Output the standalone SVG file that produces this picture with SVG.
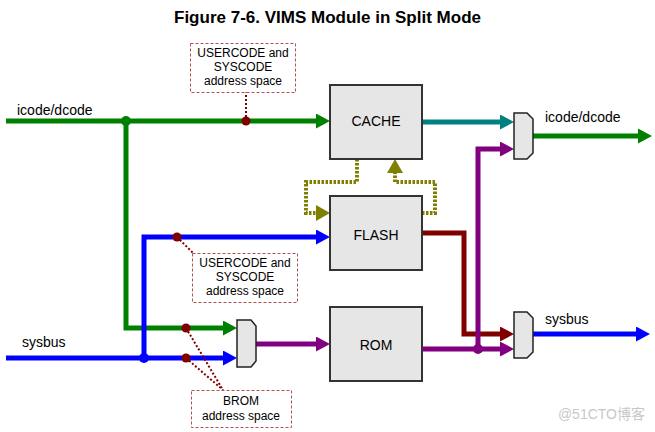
<svg xmlns="http://www.w3.org/2000/svg" width="655" height="432" viewBox="0 0 655 432">
<style>
text{font-family:"Liberation Sans",Arial,sans-serif;fill:#000}
.title{font-size:17px;font-weight:bold}
.lbl{font-size:14px}
.small{font-size:12px}
.box{fill:#e6e6e6;stroke:#333;stroke-width:2}
.mux{fill:#e6e6e6;stroke:#222;stroke-width:1.5}
.note{fill:#fff;stroke:#b05050;stroke-width:1;stroke-dasharray:3 2}
.w{fill:none;stroke-width:5;stroke-linejoin:miter}
.g{stroke:#008000}.b{stroke:#0000ff}.p{stroke:#800080}.t{stroke:#008080}.r{stroke:#800000}
.ol{fill:none;stroke:#808000;stroke-width:4;stroke-dasharray:2.5 1.5}
.dr{fill:none;stroke:#800000;stroke-width:2;stroke-dasharray:2 2}
</style>
<defs>
<marker id="ag" markerUnits="userSpaceOnUse" markerWidth="14" markerHeight="15" refX="6" refY="7.5" orient="auto"><path d="M0,0L14,7.5L0,15z" fill="#008000"/></marker>
<marker id="ab" markerUnits="userSpaceOnUse" markerWidth="14" markerHeight="15" refX="6" refY="7.5" orient="auto"><path d="M0,0L14,7.5L0,15z" fill="#0000ff"/></marker>
<marker id="ap" markerUnits="userSpaceOnUse" markerWidth="14" markerHeight="15" refX="6" refY="7.5" orient="auto"><path d="M0,0L14,7.5L0,15z" fill="#800080"/></marker>
<marker id="at" markerUnits="userSpaceOnUse" markerWidth="14" markerHeight="15" refX="6" refY="7.5" orient="auto"><path d="M0,0L14,7.5L0,15z" fill="#008080"/></marker>
<marker id="ar" markerUnits="userSpaceOnUse" markerWidth="14" markerHeight="15" refX="6" refY="7.5" orient="auto"><path d="M0,0L14,7.5L0,15z" fill="#800000"/></marker>
<marker id="ao" markerUnits="userSpaceOnUse" markerWidth="14" markerHeight="16" refX="6" refY="8" orient="auto"><path d="M0,0L14,8L0,16z" fill="#808000"/></marker>
</defs>
<text class="title" x="327.5" y="23" text-anchor="middle">Figure 7-6. VIMS Module in Split Mode</text>

<g id="connectors">
<path class="w g" d="M6,121H322" marker-end="url(#ag)"/>
<path class="w g" d="M126,121V328H229" marker-end="url(#ag)"/>
<path class="w b" d="M6,358H229" marker-end="url(#ab)"/>
<path class="w b" d="M144,358V237H322" marker-end="url(#ab)"/>
<path class="w p" d="M256,344H322" marker-end="url(#ap)"/>
<path class="w t" d="M422,122H506" marker-end="url(#at)"/>
<path class="w r" d="M422,233H464V334H506" marker-end="url(#ar)"/>
<path class="w p" d="M422,349H506" marker-end="url(#ap)"/>
<path class="w p" d="M478,349V149H506" marker-end="url(#ap)"/>
<path class="w g" d="M533,136H644" marker-end="url(#ag)"/>
<path class="w b" d="M533,334H642" marker-end="url(#ab)"/>
<path class="ol" d="M357,159V182H306V213H322" marker-end="url(#ao)"/>
<path class="ol" d="M422,213H435V182H395V167" marker-end="url(#ao)"/>
<path class="dr" d="M246,121V92"/>
<path class="dr" d="M177,237L194,254"/>
<path class="dr" d="M186,328L223,390"/>
<path class="dr" d="M186,358L223,390"/>
<circle cx="126" cy="121" r="5" fill="#008000"/>
<circle cx="144" cy="358" r="5" fill="#0000ff"/>
<circle cx="478" cy="349" r="5" fill="#800080"/>
<circle cx="246" cy="121" r="4.5" fill="#800000"/>
<circle cx="177" cy="237" r="4.5" fill="#800000"/>
<circle cx="186" cy="328" r="4.5" fill="#800000"/>
<circle cx="186" cy="358" r="4.5" fill="#800000"/>
<text class="lbl" x="17" y="115">icode/dcode</text>
<text class="lbl" x="22" y="347">sysbus</text>
<text class="lbl" x="545" y="122">icode/dcode</text>
<text class="lbl" x="545" y="324">sysbus</text>
</g>

<g id="cache"><rect class="box" x="330" y="85" width="92" height="74"/><text class="lbl" x="376" y="126" text-anchor="middle">CACHE</text></g>
<g id="flash"><rect class="box" x="330" y="196" width="92" height="74"/><text class="lbl" x="376" y="240" text-anchor="middle">FLASH</text></g>
<g id="rom"><rect class="box" x="330" y="307" width="92" height="74"/><text class="lbl" x="376" y="350" text-anchor="middle">ROM</text></g>
<g id="mux-left"><path class="mux" d="M237,320H251L256,326V361L251,367H237Z"/></g>
<g id="mux-top"><path class="mux" d="M514,113H527L533,119V153L527,159H514Z"/></g>
<g id="mux-bottom"><path class="mux" d="M514,312H527L533,318V352L527,358H514Z"/></g>

<g id="note-top"><rect class="note" x="190.5" y="43.5" width="105" height="49"/>
<text class="small" x="243" y="57" text-anchor="middle">USERCODE and</text>
<text class="small" x="243" y="71" text-anchor="middle">SYSCODE</text>
<text class="small" x="243" y="85" text-anchor="middle">address space</text></g>
<g id="note-mid"><rect class="note" x="192.5" y="253.5" width="105" height="49"/>
<text class="small" x="245" y="267" text-anchor="middle">USERCODE and</text>
<text class="small" x="245" y="281" text-anchor="middle">SYSCODE</text>
<text class="small" x="245" y="295" text-anchor="middle">address space</text></g>
<g id="note-brom"><rect class="note" x="191.5" y="390.5" width="100" height="37"/>
<text class="small" x="241" y="405" text-anchor="middle">BROM</text>
<text class="small" x="241" y="420" text-anchor="middle">address space</text></g>

<text x="645" y="419" text-anchor="end" style="font-family:'Liberation Sans','Noto Sans CJK SC',sans-serif;font-size:14px;fill:#c8c8c8">@51CTO博客</text>
</svg>
